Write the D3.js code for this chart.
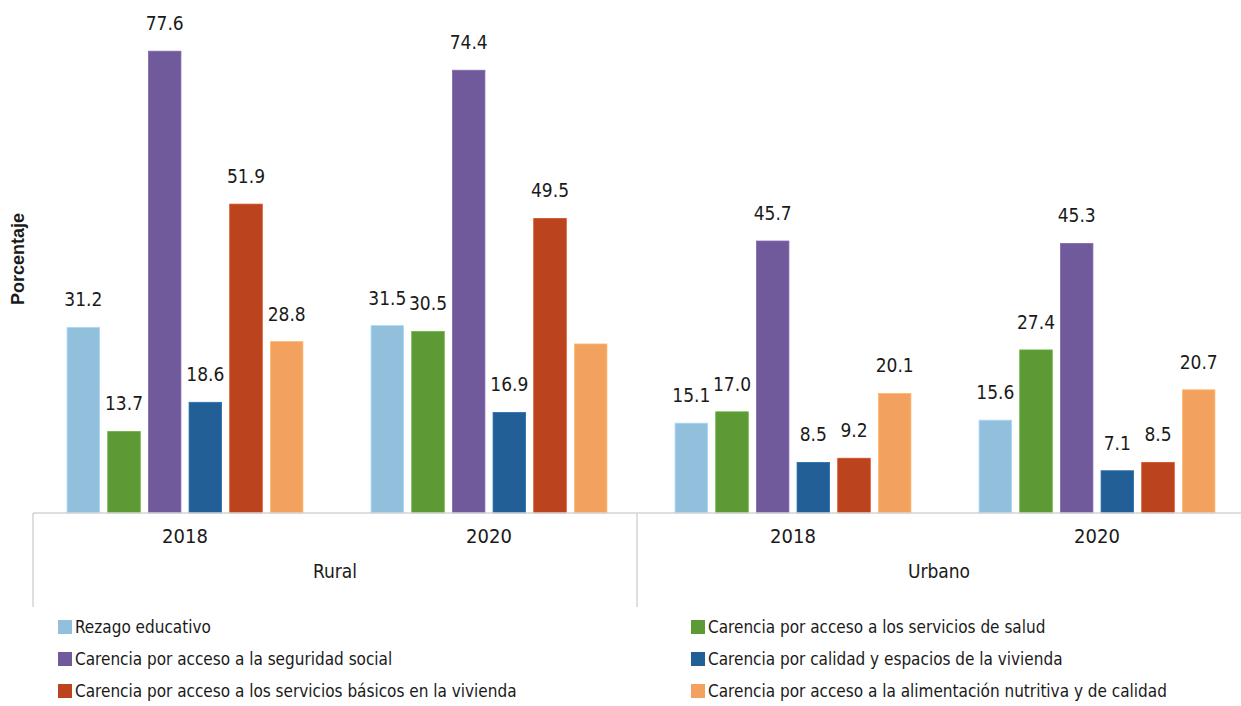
<!DOCTYPE html>
<html><head><meta charset="utf-8">
<script src="https://cdn.jsdelivr.net/npm/d3@7"></script>
<style>
body{margin:0;background:#fff;}
text{font-family:"DejaVu Sans Condensed","DejaVu Sans",sans-serif;font-stretch:condensed;fill:#1a1a1a;}
</style></head><body>
<svg id="c" width="1241" height="706"></svg>
<script>
const areas = ["Rural","Urbano"];
const years = ["2018","2020"];
const series = [
  "Rezago educativo",
  "Carencia por acceso a los servicios de salud",
  "Carencia por acceso a la seguridad social",
  "Carencia por calidad y espacios de la vivienda",
  "Carencia por acceso a los servicios básicos en la vivienda",
  "Carencia por acceso a la alimentación nutritiva y de calidad"
];
const colors = ["#92bfdb","#5b9a35","#715a9b","#235f97","#bb431d","#f3a15f"];
const rural2018  = [31.2, 13.7, 77.6, 18.6, 51.9, 28.8];
const rural2020  = [31.5, 30.5, 74.4, 16.9, 49.5, 28.4];
const urbano2018 = [15.1, 17.0, 45.7, 8.5, 9.2, 20.1];
const urbano2020 = [15.6, 27.4, 45.3, 7.1, 8.5, 20.7];
// label shown? (Rural 2020 alimentación has no label in the source)
const showLabel = [[1,1,1,1,1,1],[1,1,1,1,1,0],[1,1,1,1,1,1],[1,1,1,1,1,1]];

const groups = [
  {area:"Rural", year:"2018", vals:rural2018},
  {area:"Rural", year:"2020", vals:rural2020},
  {area:"Urbano", year:"2018", vals:urbano2018},
  {area:"Urbano", year:"2020", vals:urbano2020}
];

const svg = d3.select("#c");
const left = 33, right = 1249, base = 513;
const x0 = d3.scaleBand().domain(groups.map((g,i)=>i)).range([left,right]);
const x1 = d3.scaleBand().domain(d3.range(series.length)).range([30, x0.bandwidth()-30]).paddingInner(0.2).paddingOuter(0.1);
const y = d3.scaleLinear().domain([0, 86.2]).range([base, 0]);

// bars
groups.forEach((g,gi)=>{
  const gg = svg.append("g").attr("transform",`translate(${x0(gi)},0)`);
  gg.selectAll("rect").data(g.vals).join("rect")
    .attr("x",(d,i)=>x1(i)).attr("width",x1.bandwidth())
    .attr("y",d=>y(d)).attr("height",d=>base-y(d))
    .attr("fill",(d,i)=>colors[i])
    .attr("stroke",(d,i)=>d3.color(colors[i]).brighter(0.4)).attr("stroke-width",0.8);
  gg.selectAll("text.v").data(g.vals).join("text").attr("class","v")
    .filter((d,i)=>showLabel[gi][i])
    .attr("x",(d,i)=>x1(i)+x1.bandwidth()/2).attr("y",d=>y(d)-21)
    .attr("text-anchor","middle").attr("font-size",19)
    .text(d=>d.toFixed(1));
});

// axis lines
const grid = "#d4d4d4";
svg.append("line").attr("x1",left).attr("x2",1241).attr("y1",base).attr("y2",base).attr("stroke",grid).attr("stroke-width",1.5);
const sepX = [left, 637];
sepX.forEach(sx=>svg.append("line").attr("x1",sx).attr("x2",sx).attr("y1",base).attr("y2",607).attr("stroke",grid).attr("stroke-width",1.5));

// category labels
groups.forEach((g,gi)=>{
  svg.append("text").attr("x",x0(gi)+x0.bandwidth()/2).attr("y",543)
    .attr("text-anchor","middle").attr("font-size",20).text(g.year);
});
areas.forEach((a,ai)=>{
  const cx = ai===0 ? (left + 637)/2 : (637+1241)/2;
  svg.append("text").attr("x",cx).attr("y",578).attr("text-anchor","middle").attr("font-size",19).text(a);
});

// y title
svg.append("text").attr("transform","translate(24,259) rotate(-90)")
  .attr("text-anchor","middle").attr("font-size",18).attr("font-weight","bold")
  .style("font-family","'Liberation Sans',Arial,sans-serif").style("font-stretch","normal").text("Porcentaje");

// legend
const legX = [58, 691], legY = [627, 659, 691];
series.forEach((s,i)=>{
  const col = i%2, row = Math.floor(i/2);
  const g = svg.append("g").attr("transform",`translate(${legX[col]},${legY[row]})`);
  g.append("rect").attr("x",0).attr("y",-7).attr("width",14).attr("height",14).attr("fill",colors[i]);
  g.append("text").attr("x",17).attr("y",6).attr("font-size",17).text(s);
});
</script>
</body></html>
